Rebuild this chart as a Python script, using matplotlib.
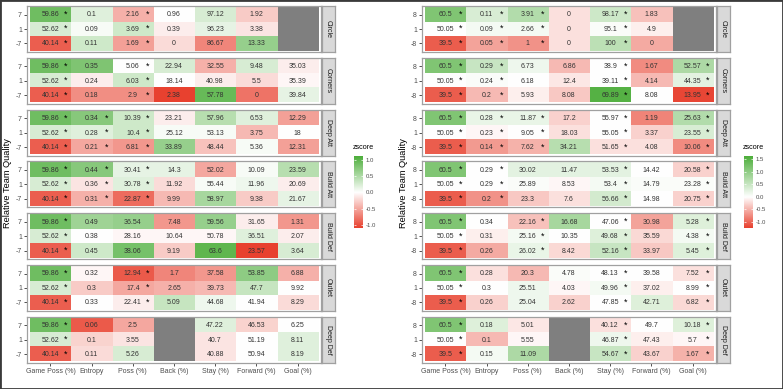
import numpy as np
import matplotlib
matplotlib.use("Agg")
import matplotlib.pyplot as plt
from matplotlib.colors import LinearSegmentedColormap, TwoSlopeNorm
from matplotlib.patches import Rectangle

plt.rcParams['font.family'] = ['Liberation Sans', 'DejaVu Sans']

nan = np.nan
metrics = ["Game Poss (%)", "Entropy", "Poss (%)", "Back (%)", "Stay (%)", "Forward (%)", "Goal (%)"]
zones = ["Circle", "Corners", "Deep Att", "Build Att", "Build Def", "Outlet", "Deep Def"]
left_rows = ["7", "1", "-7"]
right_rows = ["8", "1", "-8"]

# cell values (rows top to bottom, columns = metrics)
left_values = [
    [[59.86, 0.1, 2.16, 0.96, 97.12, 1.92, nan], [52.62, 0.09, 3.69, 0.39, 96.23, 3.38, nan], [40.14, 0.11, 1.69, 0, 86.67, 13.33, nan]],
    [[59.86, 0.35, 5.06, 22.94, 32.55, 9.48, 35.03], [52.62, 0.24, 6.03, 18.14, 40.98, 5.5, 35.39], [40.14, 0.18, 2.9, 2.38, 57.78, 0, 39.84]],
    [[59.86, 0.34, 10.39, 23.21, 57.96, 6.53, 12.29], [52.62, 0.28, 10.4, 25.12, 53.13, 3.75, 18], [40.14, 0.21, 6.81, 33.89, 48.44, 5.36, 12.31]],
    [[59.86, 0.44, 30.41, 14.3, 52.02, 10.09, 23.59], [52.62, 0.36, 30.78, 11.92, 55.44, 11.96, 20.69], [40.14, 0.31, 22.87, 9.99, 58.97, 9.38, 21.67]],
    [[59.86, 0.49, 36.54, 7.48, 59.56, 31.65, 1.31], [52.62, 0.38, 28.16, 10.64, 50.78, 36.51, 2.07], [40.14, 0.45, 38.06, 9.19, 63.6, 23.57, 3.64]],
    [[59.86, 0.32, 12.94, 1.7, 37.58, 53.85, 6.88], [52.62, 0.3, 17.4, 2.65, 39.73, 47.7, 9.92], [40.14, 0.33, 22.41, 5.09, 44.68, 41.94, 8.29]],
    [[59.86, 0.06, 2.5, nan, 47.22, 46.53, 6.25], [52.62, 0.1, 3.55, nan, 40.7, 51.19, 8.11], [40.14, 0.11, 5.26, nan, 40.88, 50.94, 8.19]],
]
left_z = [
    [[0.9, 0.2, -0.45, 0.0, 0.25, -0.3, nan], [0.25, 0.05, 0.3, -0.1, 0.15, -0.15, nan], [-0.92, 0.3, -0.55, -0.2, -0.7, 0.65, nan]],
    [[0.9, 0.8, 0.0, 0.25, -0.45, 0.25, -0.1], [0.25, -0.1, 0.3, 0.0, -0.1, -0.2, -0.05], [-0.92, -0.65, -0.65, -1.1, 0.95, -0.8, 0.15]],
    [[0.9, 0.75, 0.3, -0.1, 0.45, 0.2, -0.55], [0.25, 0.2, 0.3, 0.05, 0.05, -0.4, 0.0], [-0.92, -0.5, -0.6, 0.65, -0.35, 0.05, -0.55]],
    [[0.9, 0.75, 0.15, 0.15, -0.5, 0.05, 0.45], [0.25, -0.15, 0.2, -0.2, 0.05, 0.1, -0.1], [-0.92, -0.45, -0.85, -0.4, 0.55, -0.3, 0.15]],
    [[0.9, 0.6, 0.65, -0.6, 0.65, -0.1, -0.6], [0.25, 0.0, -0.05, -0.05, -0.05, 0.2, -0.1], [-0.92, 0.3, 0.85, -0.3, 1.0, -1.1, 0.25]],
    [[0.9, -0.05, -0.95, -0.7, -0.6, 0.7, -0.45], [0.25, -0.3, -0.5, -0.45, -0.4, 0.35, 0.0], [-0.92, 0.0, -0.1, 0.35, 0.1, 0.0, -0.2]],
    [[0.9, -0.95, -0.5, nan, 0.2, -0.25, 0.0], [0.25, -0.25, -0.15, nan, -0.15, 0.0, 0.2], [-0.92, -0.2, 0.25, nan, -0.15, 0.0, 0.2]],
]
left_stars = [[0, 2], [0, 2], [0, 1, 2], [0, 1, 2], [0], [0, 2], [0]]

right_values = [
    [[60.5, 0.11, 3.91, 0, 98.17, 1.83, nan], [50.05, 0.09, 2.66, 0, 95.1, 4.9, nan], [39.5, 0.05, 1, 0, 100, 0, nan]],
    [[60.5, 0.29, 6.73, 6.86, 38.9, 1.67, 52.57], [50.05, 0.24, 6.18, 12.4, 39.11, 4.14, 44.35], [39.5, 0.2, 5.93, 8.08, 69.89, 8.08, 13.95]],
    [[60.5, 0.28, 11.87, 17.2, 55.97, 1.19, 25.63], [50.05, 0.23, 9.05, 18.03, 55.05, 3.37, 23.55], [39.5, 0.14, 7.62, 34.21, 51.65, 4.08, 10.06]],
    [[60.5, 0.29, 30.02, 11.47, 53.53, 14.42, 20.58], [50.05, 0.29, 25.89, 8.53, 53.4, 14.79, 23.28], [39.5, 0.2, 23.3, 7.6, 56.66, 14.98, 20.75]],
    [[60.5, 0.34, 22.16, 16.68, 47.06, 30.98, 5.28], [50.05, 0.31, 25.16, 10.35, 49.68, 35.59, 4.38], [39.5, 0.26, 26.02, 8.42, 52.16, 33.97, 5.45]],
    [[60.5, 0.28, 20.3, 4.78, 48.13, 39.58, 7.52], [50.05, 0.3, 25.51, 4.03, 49.96, 37.02, 8.99], [39.5, 0.26, 25.04, 2.62, 47.85, 42.71, 6.82]],
    [[60.5, 0.18, 5.01, nan, 40.12, 49.7, 10.18], [50.05, 0.1, 5.55, nan, 46.87, 47.43, 5.7], [39.5, 0.15, 11.09, nan, 54.67, 43.67, 1.67]],
]
right_z = [
    [[1.15, 0.35, 0.7, -0.2, 0.45, -0.4, nan], [0.0, 0.1, 0.1, -0.2, 0.05, -0.1, nan], [-1.05, -0.6, -0.7, -0.2, 0.6, -0.55, nan]],
    [[1.15, 0.5, 0.15, -0.45, 0.0, -0.75, 0.75], [0.0, 0.05, 0.0, -0.15, 0.0, -0.45, 0.25], [-1.05, -0.45, -0.1, -0.35, 1.55, 0.0, -1.2]],
    [[1.15, 0.2, 0.2, -0.3, 0.0, -0.8, 0.7], [0.0, -0.05, 0.0, -0.2, 0.0, -0.3, 0.35], [-1.05, -0.65, -0.5, 0.65, -0.2, -0.2, -0.75]],
    [[1.15, 0.0, 0.25, 0.25, 0.25, 0.0, -0.3], [0.0, 0.0, 0.05, -0.05, 0.1, 0.05, 0.05], [-1.05, -0.7, -0.35, -0.2, 0.4, 0.0, -0.3]],
    [[1.15, 0.0, -0.4, 0.8, 0.0, -0.6, 0.3], [0.0, -0.1, 0.1, 0.0, 0.3, -0.25, 0.1], [-1.05, -0.55, 0.2, -0.25, 0.5, -0.35, 0.3]],
    [[1.15, -0.2, -0.45, 0.05, 0.0, 0.0, -0.2], [0.0, 0.0, 0.15, -0.05, 0.1, -0.1, 0.0], [-1.05, -0.3, 0.15, -0.3, 0.0, 0.3, -0.25]],
    [[1.15, 0.3, -0.15, nan, -0.2, 0.0, 0.3], [0.0, -0.45, -0.05, nan, 0.15, -0.1, -0.05], [-1.05, 0.1, 0.75, nan, 0.5, -0.3, -0.5]],
]
right_stars = [[0, 1, 2, 4], [0, 1, 4, 6], [0, 1, 2, 4, 6], [0, 1, 4, 6], [0, 2, 4, 6], [0, 4, 6], [0, 4, 6]]

W, H = 783, 389
fig = plt.figure(figsize=(W / 100, H / 100), dpi=100)


def px_axes(x0, y0, x1, y1):
    return fig.add_axes([x0 / W, 1 - y1 / H, (x1 - x0) / W, (y1 - y0) / H])


cmap = LinearSegmentedColormap.from_list('zs', ['#E8412F', '#FFFFFF', '#4DAE3B'])
cmap.set_bad('#7F7F7F')
border = '#A0A0A0'


def draw_half(values, zs, stars, rows, x0, x1, zlim, ticks, title_x, leg_x):
    norm = TwoSlopeNorm(vmin=zlim[0], vcenter=0, vmax=zlim[1])
    for i, zone in enumerate(zones):
        mid = 29 + 51.8 * i
        ax = px_axes(x0, mid - 23, x1, mid + 23)
        z = np.ma.masked_invalid(np.array(zs[i], dtype=float))
        ax.imshow(z, cmap=cmap, norm=norm, aspect='auto', interpolation='nearest',
                  extent=(-0.5, 6.5, 2.5, -0.5))
        ax.set_xlim(-0.57, 6.57)
        ax.set_ylim(2.59, -0.59)
        for r in range(3):
            for c in range(7):
                v = values[i][r][c]
                if np.isnan(v):
                    continue
                ax.text(c, r + 0.03, f"{v:g}", ha='center', va='center', fontsize=5, color='#333333')
                if c in stars[i]:
                    ax.text(c + 0.37, r - 0.02, '*', ha='center', va='center', fontsize=6.5,
                            color='black')
        ax.set_yticks(range(3))
        ax.set_yticklabels(rows)
        ax.tick_params(axis='y', length=2.2, width=0.6, color='#333333', labelsize=5,
                       labelcolor='#4D4D4D', pad=1.5)
        if i == len(zones) - 1:
            ax.set_xticks(range(7))
            ax.set_xticklabels(metrics)
            ax.tick_params(axis='x', length=2.2, width=0.6, color='#333333', labelsize=5,
                           labelcolor='#4D4D4D', pad=1.5)
        else:
            ax.set_xticks([])
        for s in ax.spines.values():
            s.set_color(border)
            s.set_linewidth(0.9)

        sax = px_axes(x1 + 1, mid - 23, x1 + 14, mid + 23)
        sax.set_facecolor('#D9D9D9')
        sax.set_xticks([])
        sax.set_yticks([])
        for s in sax.spines.values():
            s.set_color(border)
            s.set_linewidth(0.9)
        sax.text(0.5, 0.5, zone, rotation=-90, ha='center', va='center', transform=sax.transAxes,
                 fontsize=5, color='#1A1A1A')

    fig.text(title_x / W, 1 - 183 / H, 'Relative Team Quality', rotation=90, ha='center',
             va='center', fontsize=6.7, color='black')

    # colour bar legend
    lo, hi = zlim
    bar_h = 72
    cax = px_axes(leg_x, 156, leg_x + 9, 156 + bar_h)
    grad = np.linspace(hi, lo, 200)[:, None]
    cax.imshow(grad, cmap=cmap, norm=norm, aspect='auto', extent=(0, 1, lo, hi))
    cax.set_xlim(0, 1)
    cax.set_ylim(lo, hi)
    cax.set_xticks([])
    cax.yaxis.tick_right()
    cax.set_yticks(ticks)
    cax.set_yticklabels([f"{t:.1f}" for t in ticks])
    cax.tick_params(axis='y', length=0, labelsize=4.3, labelcolor='#4D4D4D', pad=2)
    cax.hlines(ticks, 0, 0.2, color='white', lw=0.5)
    cax.hlines(ticks, 0.8, 1, color='white', lw=0.5)
    for s in cax.spines.values():
        s.set_visible(False)
    fig.text((leg_x - 1) / W, 1 - 147 / H, 'zscore', ha='left', va='center', fontsize=5.2,
             color='black')


draw_half(left_values, left_z, left_stars, left_rows, 27, 321, (-1.1, 1.12),
          [-1.0, -0.5, 0.0, 0.5, 1.0], 8, 354)
draw_half(right_values, right_z, right_stars, right_rows, 422, 716, (-1.24, 1.63),
          [-1.0, -0.5, 0.0, 0.5, 1.0, 1.5], 404, 744)

fig.patches.append(Rectangle((0, 0), 1, 1, transform=fig.transFigure, fill=False,
                             edgecolor='#3A3A3A', linewidth=2))

fig.savefig('out.png', dpi=100)
